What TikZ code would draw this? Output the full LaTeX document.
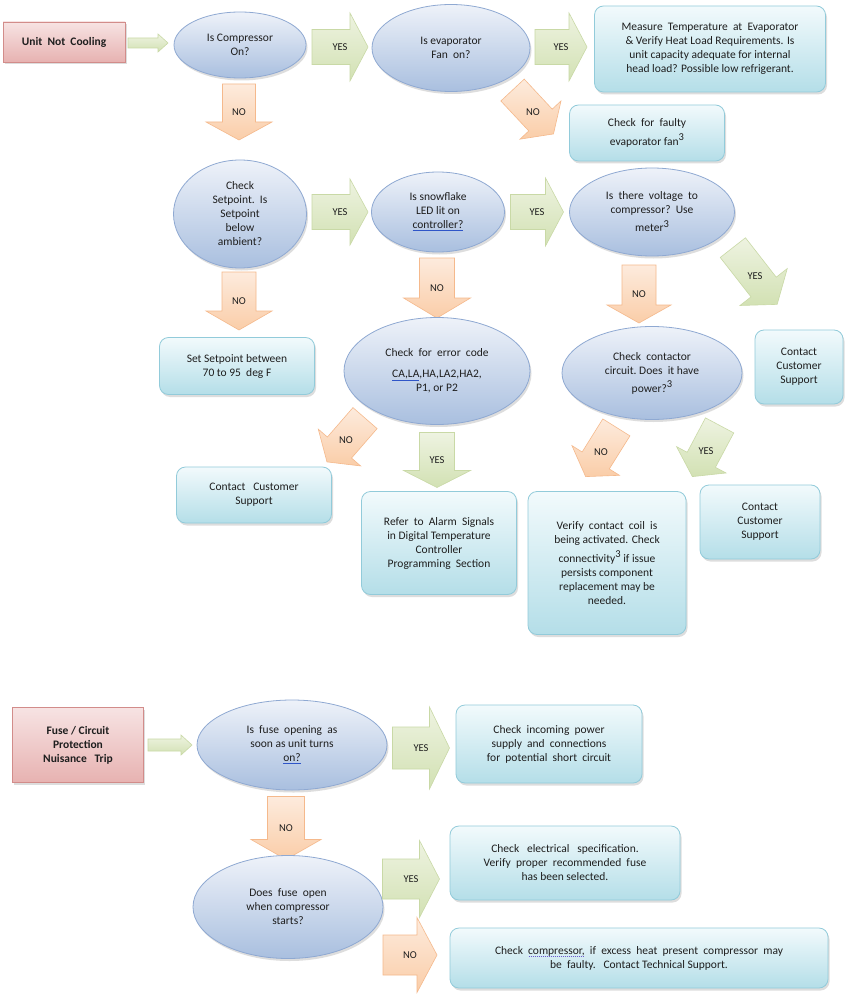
\documentclass[tikz,border=0pt]{standalone}
\usepackage{fontspec}
\setmainfont{Carlito}
\usetikzlibrary{shapes.geometric,shadows}
\definecolor{txt}{HTML}{1E1E1E}
\definecolor{linkblue}{HTML}{2F55C8}
\definecolor{spellv}{HTML}{6A5ACD}
\definecolor{startline}{HTML}{D28C8A}
\definecolor{startT}{HTML}{F7E3E3}
\definecolor{startB}{HTML}{E7B2B1}
\definecolor{procline}{HTML}{92CBDA}
\definecolor{procT}{HTML}{F2FAFC}
\definecolor{procB}{HTML}{B4DEE8}
\definecolor{decline}{HTML}{8FA9D2}
\definecolor{decT}{HTML}{EEF2F9}
\definecolor{decB}{HTML}{A9BFDF}
\definecolor{yesline}{HTML}{C9D9A6}
\definecolor{yesT}{HTML}{EEF3E1}
\definecolor{yesB}{HTML}{D2E1B3}
\definecolor{noline}{HTML}{F5B98C}
\definecolor{noT}{HTML}{FDEBDD}
\definecolor{noB}{HTML}{FACDA8}
\newcommand{\linku}[1]{{\color{linkblue}\underline{\color{txt}#1}}}
\newsavebox{\spellbox}
\newcommand{\spellu}[1]{\leavevmode\sbox{\spellbox}{#1}\rlap{\raisebox{-2.5pt}{\textcolor{spellv}{\hbox to \wd\spellbox{\leaders\hbox to 2pt{\hss\rule{1pt}{0.8pt}\hss}\hfill}}}}\usebox{\spellbox}}
\newcommand{\cubed}{\raisebox{0.42em}{\fontsize{10.5}{12}\selectfont 3}}
\tikzset{
  base/.style={font=\fontsize{11.5}{14}\selectfont, text=txt, align=center, inner sep=0pt},
  shad/.style={drop shadow={shadow xshift=1.5pt, shadow yshift=-2.5pt, opacity=0.22, fill=black!60}},
  startbox/.style={base, shad, rectangle, draw=startline, line width=0.9pt, top color=startT, bottom color=startB, font=\fontsize{11.5}{14}\selectfont\bfseries},
  procbox/.style={base, shad, rectangle, rounded corners=9pt, draw=procline, line width=0.8pt, top color=procT, bottom color=procB},
  decision/.style={base, shad, ellipse, draw=decline, line width=0.8pt, top color=decT, bottom color=decB},
  yesarr/.style={draw=yesline, line width=0.6pt, top color=yesT, bottom color=yesB, line join=miter},
  noarr/.style={draw=noline, line width=0.6pt, top color=noT, bottom color=noB, line join=miter},
  arrlabel/.style={font=\fontsize{10.5}{12}\selectfont, text=txt, inner sep=0pt},
}
% block arrow: #1 style, #2 name, #3 centre, #4 angle, #5 length, #6 head width, #7 body width, #8 head length, #9 label
\newcommand{\barr}[9]{%
  \begin{scope}[shift={#3}, rotate=#4]
    \path[#1] (-#5/2,-#7/2) -- (#5/2-#8,-#7/2) -- (#5/2-#8,-#6/2) -- (#5/2,0)
      -- (#5/2-#8,#6/2) -- (#5/2-#8,#7/2) -- (-#5/2,#7/2) -- cycle;
  \end{scope}
  \node[arrlabel] (#2) at #3 {#9};
}
\begin{document}
\begin{tikzpicture}[x=1pt,y=-1pt]
\fill[white] (0,0) rectangle (851,1000);
\useasboundingbox (0,0) rectangle (851,1000);

% ---------- Unit Not Cooling ----------
\node[startbox, minimum width=122, minimum height=40] (s1) at (64,42) {Unit\ \ Not\ \ Cooling};
\barr{yesarr}{a0}{(148,43)}{0}{40}{18}{10}{10}{}
\node[decision, minimum width=132, minimum height=66] (q1) at (240,45) {Is Compressor\\On?};
\barr{yesarr}{y1}{(340,47)}{0}{56}{68}{35}{18}{YES}
\node[decision, minimum width=158, minimum height=87] (q2) at (451,48) {Is evaporator\\Fan\ \ on?};
\barr{yesarr}{y2}{(561,47)}{0}{52}{68}{35}{18}{YES}
\node[procbox, minimum width=231, minimum height=86] (r1) at (710,49) {Measure\ \ Temperature\ \ at\ \ Evaporator\\\& Verify Heat Load Requirements. Is\\unit capacity adequate for internal\\head load? Possible low refrigerant.};
\barr{noarr}{n1}{(533,112)}{-47}{60}{56}{32}{19}{NO}
\node[procbox, minimum width=155, minimum height=56] (r2) at (647,133) {Check\ \ for\ \ faulty\\[5pt]evaporator fan\cubed};
\barr{noarr}{n2}{(239,112)}{-90}{56}{66}{33}{18}{NO}
\node[decision, minimum width=133, minimum height=108] (q3) at (240,214) {Check\\Setpoint.\ \ Is\\Setpoint\\below\\ambient?};
\barr{yesarr}{y3}{(340,212)}{0}{56}{66}{35}{18}{YES}
\node[decision, minimum width=133, minimum height=80] (q4) at (438,212) {Is snowflake\\LED lit on\\\linku{controller?}};
\barr{yesarr}{y4}{(537,212)}{0}{53}{68}{35}{18}{YES}
\node[decision, minimum width=165, minimum height=88] (q5) at (652,212) {Is\ \ there\ \ voltage\ \ to\\compressor?\ \ Use\\[4pt]meter\cubed};
\barr{noarr}{n3}{(239,301)}{-90}{58}{66}{34}{19}{NO}
\node[procbox, minimum width=155, minimum height=57] (r3) at (237,366) {Set Setpoint between\\70 to 95\ \ deg F};
\barr{noarr}{n4}{(437,288)}{-90}{60}{67}{35}{20}{NO}
\node[decision, minimum width=186, minimum height=107] (q6) at (437,371) {Check\ \ for\ \ error\ \ code\\[7pt]\linku{CA,LA},HA,LA2,HA2,\\P1, or P2};
\barr{noarr}{n5}{(639,294)}{-90}{58}{64}{34}{18}{NO}
\barr{yesarr}{y5}{(755,276)}{-52}{72}{60}{32}{22}{YES}
\node[procbox, minimum width=88, minimum height=74] (r4) at (799,367) {Contact\\Customer\\Support};
\node[decision, minimum width=180, minimum height=93] (q7) at (652,373) {Check\ \ contactor\\circuit.\ Does\ \ it have\\[4pt]power?\cubed};
\barr{noarr}{n6}{(346,440)}{-131}{58}{56}{32}{19}{NO}
\barr{yesarr}{y6}{(437,460)}{-90}{55}{67}{35}{17}{YES}
\node[procbox, minimum width=155, minimum height=56] (r5) at (254,495) {Contact\ \ \ Customer\\Support};
\node[procbox, minimum width=155, minimum height=103] (r6) at (439,543) {Refer\ \ to\ \ Alarm\ \ Signals\\in Digital Temperature\\Controller\\Programming\ \ Section};
\barr{noarr}{n7}{(601,452)}{-122}{58}{56}{32}{19}{NO}
\barr{yesarr}{y7}{(706,451)}{-118}{58}{56}{32}{19}{YES}
\node[procbox, minimum width=158, minimum height=143] (r7) at (607,563) {Verify\ \ contact\ \ coil\ \ is\\being activated. Check\\[5pt]connectivity\cubed{} if issue\\persists component\\replacement may be\\needed.};
\node[procbox, minimum width=120, minimum height=74] (r8) at (760,522) {Contact\\Customer\\Support};

% ---------- Fuse / Circuit Protection ----------
\node[startbox, minimum width=131, minimum height=75] (s2) at (78,745) {Fuse / Circuit\\Protection\\Nuisance\ \ \ Trip};
\barr{yesarr}{a1}{(170,745)}{0}{44}{20}{12}{11}{}
\node[decision, minimum width=190, minimum height=90] (q8) at (292,745) {Is\ \ fuse\ \ opening\ \ as\\soon as unit turns\\\linku{on?}};
\barr{yesarr}{y8}{(421,748)}{0}{57}{82}{42}{20}{YES}
\node[procbox, minimum width=186, minimum height=78] (r9) at (549,744) {Check\ \ incoming\ \ power\\supply\ \ and\ \ connections\\for\ \ potential\ \ short\ \ circuit};
\barr{noarr}{n8}{(286,828)}{-90}{63}{70}{37}{20}{NO}
\node[decision, minimum width=190, minimum height=103] (q9) at (288,907) {Does\ \ fuse\ \ open\\when compressor\\starts?};
\barr{yesarr}{y9}{(411,879)}{0}{57}{77}{40}{20}{YES}
\node[procbox, minimum width=230, minimum height=74] (r10) at (565,863) {Check\ \ \ electrical\ \ \ specification.\\Verify\ \ proper\ \ recommended\ \ fuse\\has been selected.};
\barr{noarr}{n9}{(410,955)}{0}{54}{75}{40}{20}{NO}
\node[procbox, minimum width=378, minimum height=60] (r11) at (639,958) {Check\ \ \spellu{compressor,}\ \ if\ \ excess\ \ heat\ \ present\ \ compressor\ \ may\\be\ \ faulty.\ \ \ Contact Technical Support.};
\end{tikzpicture}
\end{document}
